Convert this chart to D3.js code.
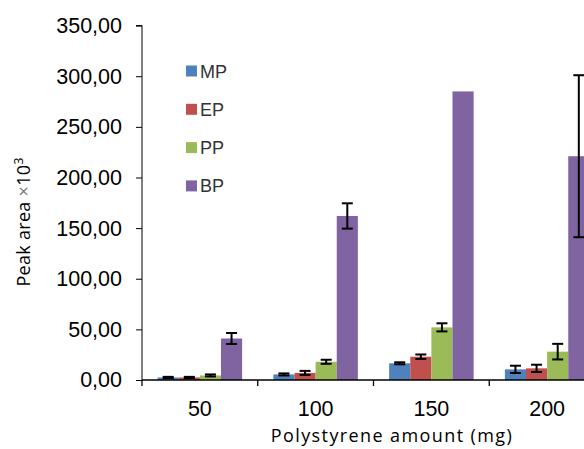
<!DOCTYPE html>
<html>
<head>
<meta charset="utf-8">
<script src="https://cdn.jsdelivr.net/npm/d3@7"></script>
<style>
  body { margin: 0; background: #fff; }
  svg { display: block; }
</style>
</head>
<body>
<svg width="584" height="449"></svg>
<script>
var categories = ["50", "100", "150", "200"];
var seriesNames = ["MP", "EP", "PP", "BP"];
var seriesColors = ["#4F81BD", "#C0504D", "#9BBB59", "#8064A2"];
var mpValues = [2.5, 5.5, 16.5, 10.5];
var mpErrors = [0.6, 1, 1, 3.6];
var epValues = [2.5, 7, 23, 11.5];
var epErrors = [0.6, 2, 2.2, 3.6];
var ppValues = [4.5, 18, 52, 28];
var ppErrors = [1, 2, 4, 7.7];
var bpValues = [41, 162, 285, 221];
var bpErrors = [5.4, 12.5, 0, 80];
var yTicks = [0, 50, 100, 150, 200, 250, 300, 350];

var values = [mpValues, epValues, ppValues, bpValues];
var errors = [mpErrors, epErrors, ppErrors, bpErrors];

var svg = d3.select("svg");
var plotLeft = 142, plotBottom = 380, plotTop = 25.6, plotRight = 605;
var numFont = "Liberation Sans, Arial, sans-serif";
var titleFont = "Open Sans, sans-serif";

var x = d3.scaleBand().domain(categories).range([plotLeft, plotRight]).paddingInner(0).paddingOuter(0);
var xs = d3.scaleBand().domain(seriesNames).range([0, x.bandwidth()]).paddingOuter(0.74).paddingInner(0);
var y = d3.scaleLinear().domain([0, 350]).range([plotBottom, plotTop]);

// bars
var data = [];
categories.forEach(function(c, i) {
  seriesNames.forEach(function(s, j) {
    data.push({cat: c, series: s, color: seriesColors[j], v: values[j][i], e: errors[j][i]});
  });
});

svg.append("g").selectAll("rect")
  .data(data)
  .enter().append("rect")
  .attr("x", function(d) { return x(d.cat) + xs(d.series); })
  .attr("y", function(d) { return y(d.v); })
  .attr("width", xs.bandwidth())
  .attr("height", function(d) { return plotBottom - y(d.v); })
  .attr("fill", function(d) { return d.color; });

// error bars
function cx(d) { return x(d.cat) + xs(d.series) + xs.bandwidth() / 2; }
var eb = svg.append("g").selectAll("g")
  .data(data.filter(function(d) { return d.e > 0; }))
  .enter().append("g")
  .attr("stroke", "#000")
  .attr("stroke-width", 2);
eb.append("line")
  .attr("x1", cx).attr("x2", cx)
  .attr("y1", function(d) { return y(d.v + d.e); })
  .attr("y2", function(d) { return y(d.v - d.e); });
eb.append("line")
  .attr("x1", function(d) { return cx(d) - 5.5; }).attr("x2", function(d) { return cx(d) + 5.5; })
  .attr("y1", function(d) { return y(d.v + d.e); }).attr("y2", function(d) { return y(d.v + d.e); });
eb.append("line")
  .attr("x1", function(d) { return cx(d) - 5.5; }).attr("x2", function(d) { return cx(d) + 5.5; })
  .attr("y1", function(d) { return y(d.v - d.e); }).attr("y2", function(d) { return y(d.v - d.e); });

// y axis
var yAxis = d3.axisLeft(y).tickValues(yTicks).tickSize(6).tickPadding(14)
  .tickFormat(function(d) { return d3.format(".2f")(d).replace(".", ","); });
var ya = svg.append("g").attr("transform", "translate(" + plotLeft + ",0)").call(yAxis);
ya.select(".domain").attr("d", "M-6," + plotTop + "H0V" + plotBottom);
ya.selectAll("text").attr("font-family", numFont).attr("font-size", 21.5).attr("fill", "#000");

// x axis
svg.append("line").attr("x1", plotLeft).attr("x2", plotRight).attr("y1", plotBottom).attr("y2", plotBottom)
  .attr("stroke", "#000").attr("stroke-width", 1.3);
svg.append("g").selectAll("line")
  .data(categories)
  .enter().append("line")
  .attr("x1", function(d) { return x(d); }).attr("x2", function(d) { return x(d); })
  .attr("y1", plotBottom).attr("y2", plotBottom + 6)
  .attr("stroke", "#000").attr("stroke-width", 1.3);
svg.append("g").selectAll("text")
  .data(categories)
  .enter().append("text")
  .attr("x", function(d) { return x(d) + x.bandwidth() / 2; })
  .attr("y", 416)
  .attr("text-anchor", "middle")
  .attr("font-family", numFont)
  .attr("font-size", 21.5)
  .text(function(d) { return d; });

// axis titles
svg.append("text")
  .attr("x", 392).attr("y", 442)
  .attr("text-anchor", "middle")
  .attr("font-family", titleFont)
  .attr("font-size", 18)
  .attr("letter-spacing", 1.4)
  .text("Polystyrene amount (mg)");

var yt = svg.append("text")
  .attr("transform", "translate(30,222) rotate(-90)")
  .attr("text-anchor", "middle")
  .attr("font-family", titleFont)
  .attr("font-size", 18)
  .attr("letter-spacing", 0.3);
yt.append("tspan").text("Peak area ");
yt.append("tspan").attr("fill", "#777").text("×");
yt.append("tspan").text("10");
yt.append("tspan").attr("font-size", 12).attr("dy", -7).text("3");

// legend
var lg = svg.append("g").selectAll("g")
  .data(seriesNames)
  .enter().append("g")
  .attr("transform", function(d, i) { return "translate(186," + (71 + i * 38.3) + ")"; });
lg.append("rect")
  .attr("x", 0).attr("y", -5.5).attr("width", 11).attr("height", 11)
  .attr("fill", function(d, i) { return seriesColors[i]; });
lg.append("text")
  .attr("x", 14).attr("y", 6.5)
  .attr("font-family", numFont)
  .attr("font-size", 18)
  .attr("fill", "#333")
  .text(function(d) { return d; });
</script>
</body>
</html>
